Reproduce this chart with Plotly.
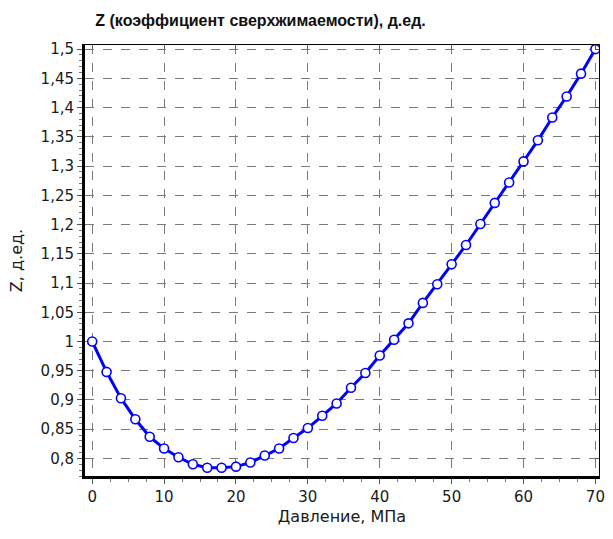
import plotly.graph_objects as go

# Pressure, MPa
pressure = [0, 2, 4, 6, 8, 10, 12, 14, 16, 18, 20, 22, 24, 26, 28, 30, 32, 34,
            36, 38, 40, 42, 44, 46, 48, 50, 52, 54, 56, 58, 60, 62, 64, 66, 68, 70]
# Compressibility factor Z, fraction
z_factor = [1.000, 0.948, 0.903, 0.867, 0.837, 0.817, 0.802, 0.790, 0.784, 0.784,
            0.786, 0.793, 0.805, 0.817, 0.835, 0.852, 0.873, 0.894, 0.921, 0.946,
            0.976, 1.003, 1.031, 1.066, 1.098, 1.132, 1.165, 1.201, 1.237, 1.272,
            1.308, 1.344, 1.383, 1.419, 1.458, 1.500]

x_range = [-1.0, 70.5]
y_range = [0.770, 1.507]

tick_font = dict(family="DejaVu Sans", size=15, color="#1a1a1a")
title_font = dict(family="DejaVu Sans", size=16, color="#1a1a1a")
grid_color = "#7a7a7a"

fig = go.Figure()
fig.add_trace(go.Scatter(
    x=pressure, y=z_factor, mode="lines+markers",
    line=dict(color="#0000ff", width=3),
    marker=dict(symbol="circle", size=9, color="white",
                line=dict(color="#0000ff", width=1.6)),
    showlegend=False, hoverinfo="x+y",
))
# empty trace to bind the mirrored top/right axes
fig.add_trace(go.Scatter(x=[None], y=[None], xaxis="x2", yaxis="y2",
                         showlegend=False, hoverinfo="skip"))

fig.update_layout(
    width=613, height=539,
    margin=dict(l=85, r=8, t=45, b=63),
    paper_bgcolor="white", plot_bgcolor="white",
    separators=", ",
    title=dict(text="<b>Z (коэффициент сверхжимаемости), д.ед.</b>",
               x=0.425, xanchor="center", y=0.962, yanchor="middle",
               font=dict(family="Liberation Sans", size=16, color="#111")),
    xaxis=dict(
        range=x_range, dtick=10, tick0=0,
        showgrid=True, gridcolor=grid_color, griddash="dash", gridwidth=1,
        zeroline=False, showline=True, linecolor="black", linewidth=3,
        ticks="outside", ticklen=5, tickcolor="#555",
        minor=dict(dtick=2.5, tick0=0, ticks="outside", ticklen=3,
                   tickcolor="#777", showgrid=False),
        tickfont=tick_font,
        title=dict(text="Давление, МПа", font=title_font, standoff=6),
    ),
    yaxis=dict(
        range=y_range, dtick=0.05, tick0=0.8,
        showgrid=True, gridcolor=grid_color, griddash="dash", gridwidth=1,
        zeroline=False, showline=True, linecolor="black", linewidth=3,
        ticks="outside", ticklen=5, tickcolor="#555",
        minor=dict(dtick=0.01, tick0=0.8, ticks="outside", ticklen=3,
                   tickcolor="#777", showgrid=False),
        tickfont=tick_font,
        title=dict(text="Z, д.ед.", font=title_font, standoff=14),
    ),
    xaxis2=dict(
        range=x_range, dtick=10, tick0=0, overlaying="x", side="top",
        anchor="y2", showgrid=False, zeroline=False, showticklabels=False,
        showline=True, linecolor="black", linewidth=1,
        ticks="inside", ticklen=4, tickcolor="#555",
    ),
    yaxis2=dict(
        range=y_range, dtick=0.05, tick0=0.8, overlaying="y", side="right",
        anchor="x2", showgrid=False, zeroline=False, showticklabels=False,
        showline=True, linecolor="black", linewidth=1,
        ticks="inside", ticklen=4, tickcolor="#555",
    ),
)

fig.write_html("out.html")
